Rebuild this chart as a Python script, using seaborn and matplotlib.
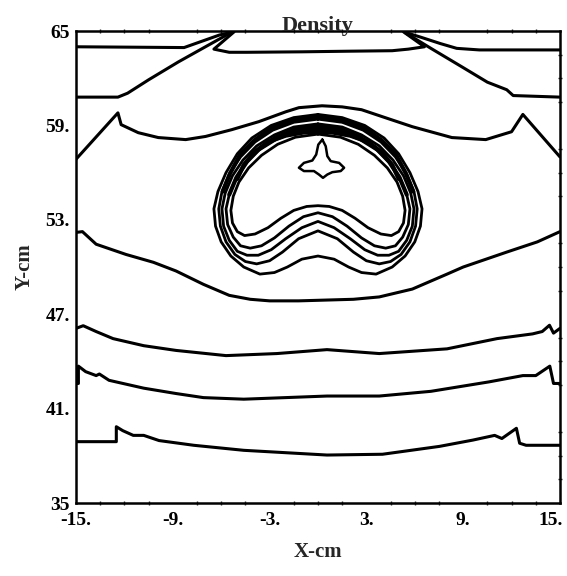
import numpy as np
import matplotlib
matplotlib.use("Agg")
import matplotlib.pyplot as plt
import matplotlib.transforms as mtrans
import seaborn as sns

# ---- contour lines (x, y in cm) ----
top_x = [-15, -8.3, -7.2, -6.1, -5.2, -6.45, -5.5, -4.4, -1.0, 2.0, 4.6, 5.6, 6.6, 5.3, 6.4, 7.6, 8.6, 10.0, 15]
top_y = [64.0, 63.95, 64.35, 64.75, 64.95, 63.85, 63.65, 63.65, 63.68, 63.72, 63.75, 63.85, 64.0, 64.95, 64.6, 64.2, 63.9, 63.8, 63.8]

l61_left_x = [-15, -12.4, -11.8, -10.5, -8.65, -6.8, -5.4]
l61_left_y = [60.8, 60.8, 61.05, 61.9, 63.04, 64.1, 64.9]
l61_right_x = [5.4, 7.0, 8.96, 10.5, 11.7, 12.1, 15]
l61_right_y = [64.9, 63.9, 62.7, 61.75, 61.27, 60.9, 60.8]

l58_x = [-15, -12.4, -12.2, -11.14, -9.9, -8.2, -6.97, -5.35, -3.67, -1.99, -1.18, 0.25, 1.5, 2.7, 4.3, 5.85, 8.3, 10.4, 12.0, 12.7, 15]
l58_y = [56.85, 59.8, 59.05, 58.54, 58.23, 58.1, 58.3, 58.73, 59.24, 59.87, 60.13, 60.25, 60.18, 60.0, 59.45, 58.92, 58.23, 58.1, 58.6, 59.7, 57.0]

l52_x = [-15, -14.6, -13.75, -11.9, -10.2, -8.8, -7.1, -5.5, -4.2, -3.0, -1.2, 0.5, 2.2, 3.8, 5.85, 8.0, 9.0, 11.7, 13.6, 15]
l52_y = [52.2, 52.25, 51.45, 50.8, 50.3, 49.75, 48.9, 48.2, 47.95, 47.85, 47.85, 47.9, 47.95, 48.1, 48.6, 49.55, 50.0, 50.95, 51.6, 52.25]

l46_x = [-15, -14.55, -13.75, -12.7, -10.8, -8.8, -5.7, -2.55, 0.56, 3.8, 8.0, 11.1, 13.3, 13.9, 14.35, 14.6, 15]
l46_y = [46.1, 46.27, 45.9, 45.45, 45.0, 44.7, 44.37, 44.5, 44.75, 44.5, 44.8, 45.45, 45.75, 45.9, 46.3, 45.8, 46.1]

l42_x = [-15, -14.85, -14.85, -14.4, -13.75, -13.55, -12.95, -10.8, -8.8, -7.1, -4.6, 0.56, 3.8, 7.0, 10.6, 12.7, 13.5, 14.37, 14.6, 15]
l42_y = [42.6, 42.6, 43.7, 43.35, 43.1, 43.2, 42.8, 42.3, 41.96, 41.7, 41.6, 41.8, 41.8, 42.1, 42.7, 43.1, 43.1, 43.7, 42.6, 42.6]

l38_x = [-15, -12.5, -12.5, -12.1, -11.45, -10.8, -9.85, -7.7, -4.6, 0.56, 4.0, 7.53, 9.6, 10.95, 11.4, 12.3, 12.5, 12.9, 15]
l38_y = [38.9, 38.9, 39.85, 39.6, 39.3, 39.3, 38.97, 38.67, 38.35, 38.05, 38.1, 38.6, 39.0, 39.3, 39.1, 39.75, 38.8, 38.67, 38.67]

# nested bean-shaped contours (outer -> inner), closed loops
bean1_x = [0, 1.5, 2.9, 4.1, 5.0, 5.7, 6.2, 6.45, 6.35, 6.0, 5.4, 4.6, 3.6, 2.7, 1.9, 1.0, 0,
           -1.0, -1.9, -2.7, -3.6, -4.6, -5.4, -6.0, -6.35, -6.45, -6.2, -5.7, -5.0, -4.1, -2.9, -1.5, 0]
bean1_y = [59.7, 59.5, 59.0, 58.2, 57.2, 56.0, 54.8, 53.7, 52.6, 51.6, 50.7, 50.0, 49.55, 49.65, 50.0, 50.5, 50.7,
           50.5, 50.0, 49.65, 49.55, 50.0, 50.7, 51.6, 52.6, 53.7, 54.8, 56.0, 57.2, 58.2, 59.0, 59.5, 59.7]
bean2_x = [0, 1.5, 2.8, 3.9, 4.8, 5.5, 5.95, 6.15, 6.05, 5.7, 5.15, 4.5, 3.8, 3.0, 2.2, 1.2, 0,
           -1.2, -2.2, -3.0, -3.8, -4.5, -5.15, -5.7, -6.05, -6.15, -5.95, -5.5, -4.8, -3.9, -2.8, -1.5, 0]
bean2_y = [59.4, 59.2, 58.7, 57.95, 57.0, 55.9, 54.8, 53.7, 52.6, 51.6, 50.8, 50.35, 50.2, 50.4, 50.95, 51.8, 52.3,
           51.8, 50.95, 50.4, 50.2, 50.35, 50.8, 51.6, 52.6, 53.7, 54.8, 55.9, 57.0, 57.95, 58.7, 59.2, 59.4]
bean3_x = [0, 1.5, 2.7, 3.8, 4.65, 5.3, 5.75, 5.95, 5.85, 5.5, 5.0, 4.4, 3.7, 2.9, 2.0, 1.0, 0,
           -1.0, -2.0, -2.9, -3.7, -4.4, -5.0, -5.5, -5.85, -5.95, -5.75, -5.3, -4.65, -3.8, -2.7, -1.5, 0]
bean3_y = [59.1, 58.9, 58.4, 57.7, 56.8, 55.8, 54.7, 53.7, 52.6, 51.7, 51.0, 50.75, 50.75, 51.1, 51.8, 52.5, 52.9,
           52.5, 51.8, 51.1, 50.75, 50.75, 51.0, 51.7, 52.6, 53.7, 54.7, 55.8, 56.8, 57.7, 58.4, 58.9, 59.1]
bean4_x = [0, 1.4, 2.6, 3.7, 4.5, 5.1, 5.5, 5.7, 5.6, 5.25, 4.8, 4.2, 3.5, 2.7, 1.8, 0.9, 0,
           -0.9, -1.8, -2.7, -3.5, -4.2, -4.8, -5.25, -5.6, -5.7, -5.5, -5.1, -4.5, -3.7, -2.6, -1.4, 0]
bean4_y = [58.8, 58.6, 58.1, 57.4, 56.6, 55.6, 54.6, 53.7, 52.7, 51.9, 51.35, 51.2, 51.35, 51.85, 52.6, 53.2, 53.45,
           53.2, 52.6, 51.85, 51.35, 51.2, 51.35, 51.9, 52.7, 53.7, 54.6, 55.6, 56.6, 57.4, 58.1, 58.6, 58.8]
bean5_x = [0, 1.4, 2.5, 3.5, 4.3, 4.9, 5.25, 5.4, 5.3, 5.0, 4.55, 3.9, 3.1, 2.3, 1.5, 0.7, 0,
           -0.7, -1.5, -2.3, -3.1, -3.9, -4.55, -5.0, -5.3, -5.4, -5.25, -4.9, -4.3, -3.5, -2.5, -1.4, 0]
bean5_y = [58.45, 58.25, 57.8, 57.1, 56.3, 55.4, 54.5, 53.6, 52.8, 52.25, 52.0, 52.1, 52.5, 53.1, 53.6, 53.85, 53.9,
           53.85, 53.6, 53.1, 52.5, 52.1, 52.0, 52.25, 52.8, 53.6, 54.5, 55.4, 56.3, 57.1, 57.8, 58.25, 58.45]

# extra contour arcs packed into the dark upper band of the bean
band1_x = [-5.9, -5.45, -4.85, -3.95, -2.85, -1.5, 0, 1.5, 2.85, 3.95, 4.85, 5.45, 5.9]
band1_y = [54.8, 55.95, 57.1, 58.05, 58.85, 59.35, 59.55, 59.35, 58.85, 58.05, 57.1, 55.95, 54.8]
band2_x = [-5.5, -5.05, -4.4, -3.6, -2.6, -1.4, 0, 1.4, 2.6, 3.6, 4.4, 5.05, 5.5]
band2_y = [54.6, 55.7, 56.7, 57.55, 58.25, 58.75, 58.95, 58.75, 58.25, 57.55, 56.7, 55.7, 54.6]
band3_x = [-5.0, -4.6, -3.95, -3.1, -2.0, -0.9, 0, 0.9, 2.0, 3.1, 3.95, 4.6, 5.0]
band3_y = [55.6, 56.5, 57.3, 57.95, 58.35, 58.55, 58.6, 58.55, 58.35, 57.95, 57.3, 56.5, 55.6]

# small star-shaped contour inside
star_x = [0.27, 0.48, 0.58, 0.79, 1.31, 1.62, 1.41, 0.89, 0.58, 0.31, 0.06, -0.25, -0.87, -1.18, -0.87, -0.35, -0.11, 0.02, 0.27]
star_y = [58.1, 57.68, 57.05, 56.73, 56.62, 56.31, 56.1, 56.03, 55.88, 55.67, 55.88, 56.1, 56.1, 56.31, 56.62, 56.77, 57.15, 57.78, 58.1]

x_ticks = [-15, -9, -3, 3, 9, 15]
x_labels = ["-15.", "-9.", "-3.", "3.", "9.", "15."]
y_ticks = [35, 41, 47, 53, 59, 65]
y_labels = ["35", "41.", "47.", "53.", "59.", "65"]

sns.set_style("white")
plt.rcParams["font.family"] = ["Liberation Serif", "DejaVu Serif"]

fig = plt.figure(figsize=(5.67, 5.76), dpi=100)
ax = fig.add_axes([0.134, 0.1267, 0.8536, 0.8194])

outer_lines = [(top_x, top_y), (l61_left_x, l61_left_y), (l61_right_x, l61_right_y),
               (l58_x, l58_y), (l52_x, l52_y), (l46_x, l46_y), (l42_x, l42_y), (l38_x, l38_y)]
for xs, ys in outer_lines:
    sns.lineplot(x=xs, y=ys, sort=False, estimator=None, color="black", lw=2.2, ax=ax)

beans = [(bean1_x, bean1_y), (bean2_x, bean2_y), (bean3_x, bean3_y), (bean4_x, bean4_y), (bean5_x, bean5_y)]
for xs, ys in beans:
    sns.lineplot(x=xs, y=ys, sort=False, estimator=None, color="black", lw=2.0, ax=ax)
for xs, ys in [(band1_x, band1_y), (band2_x, band2_y), (band3_x, band3_y)]:
    sns.lineplot(x=xs, y=ys, sort=False, estimator=None, color="black", lw=3.0, ax=ax)
sns.lineplot(x=star_x, y=star_y, sort=False, estimator=None, color="black", lw=1.8, ax=ax)

ax.set_xlim(-15, 15)
ax.set_ylim(35, 65)
for sp in ax.spines.values():
    sp.set_visible(True)
    sp.set_color("black")
    sp.set_linewidth(1.8)

ax.set_xticks(x_ticks)
ax.set_xticklabels(x_labels, fontsize=14, fontweight="bold")
ax.set_yticks(y_ticks)
ax.set_yticklabels(y_labels, fontsize=14, fontweight="bold")
ax.set_xticks(np.arange(-15, 15.1, 1.5), minor=True)
ax.set_yticks(np.arange(35, 65.1, 1.5), minor=True)
ax.tick_params(axis="both", which="major", direction="inout", length=5, width=1.3, pad=2, colors="black")
ax.tick_params(axis="both", which="minor", direction="inout", length=3, width=1.0,
               top=True, right=True, bottom=True, left=False)
ax.tick_params(axis="x", which="major", pad=4)

# keep the last x label inside the canvas, as in the scan
last = ax.get_xticklabels()[-1]
last.set_transform(last.get_transform() + mtrans.ScaledTranslation(-7 / 72, 0, fig.dpi_scale_trans))

ax.set_title("Density", fontsize=16, fontweight="bold", pad=0)
ax.set_xlabel("X-cm", fontsize=15, fontweight="bold", labelpad=9)
ax.set_ylabel("Y-cm", fontsize=15, fontweight="bold", labelpad=8)

fig.savefig("out.png", dpi=100)
